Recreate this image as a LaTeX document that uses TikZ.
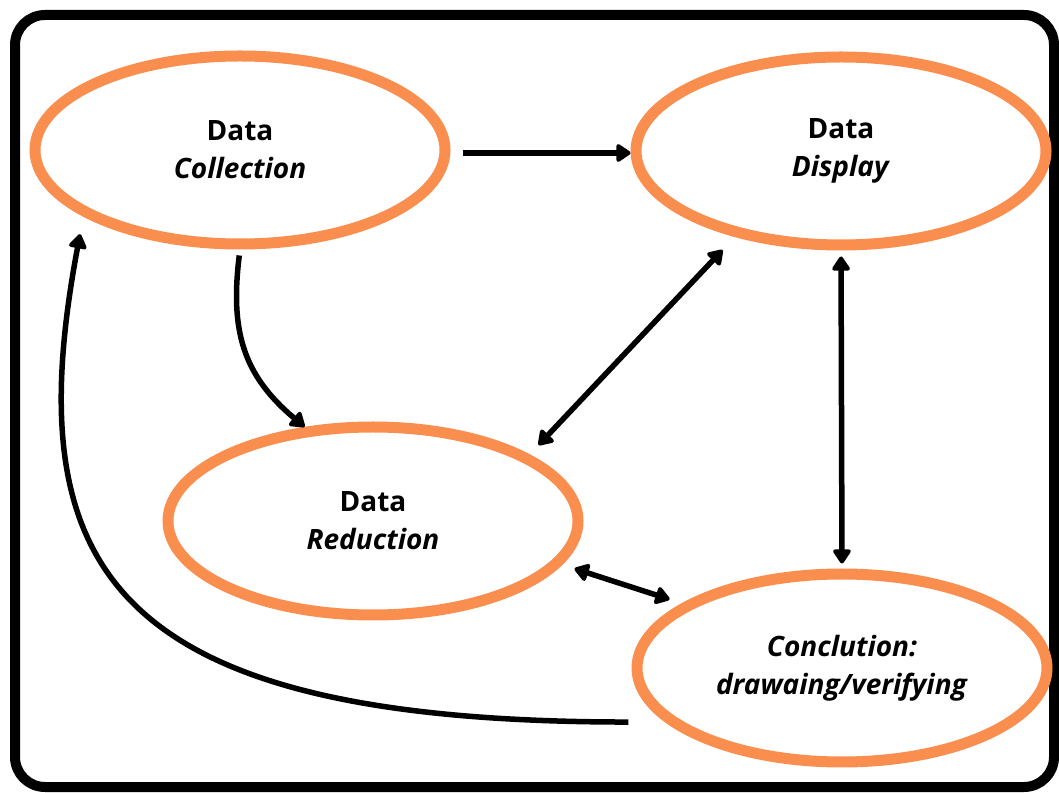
\documentclass[tikz,border=0pt]{standalone}
\usepackage{fontspec}
\setmainfont{Open Sans}
\usetikzlibrary{shapes.geometric,arrows.meta}
\definecolor{stageorange}{RGB}{250,142,78}

\begin{document}
\begin{tikzpicture}[
		x=1pt, y=1pt,
		stage/.style={ellipse, draw=stageorange, line width=11pt, minimum width=410pt, minimum height=188pt,
			align=center, font=\fontsize{28}{38}\selectfont\bfseries},
		flow/.style={line width=5.5pt, -{Triangle[length=16pt,width=20pt,round]}},
		twoway/.style={line width=5.5pt, {Triangle[length=16pt,width=20pt,round]}-{Triangle[length=16pt,width=20pt,round]}}
	]
	\useasboundingbox (0,0) rectangle (1059,792);
	\draw[line width=10pt, rounded corners=30pt] (15,5) rectangle (1054,777);

	\node[stage] (col) at (240,642) {Data\\\textit{Collection}};
	\node[stage] (dis) at (841,641) {Data\\\textit{Display}};
	\node[stage] (red) at (373,271) {Data\\\textit{Reduction}};
	\node[stage] (con) at (842,124) {\textit{Conclution:}\\\textit{drawaing/verifying}};

	\draw[flow, shorten <=12pt] ([yshift=-3pt]col.east) -- ([yshift=-2pt]dis.west);
	\draw[flow, shorten <=6pt] (col.south) to[out=-97, in=140, looseness=1.1] (red.126);
	\draw[twoway, shorten <=13pt, shorten >=18pt] (red.23) -- (dis.219.5);
	\draw[twoway, shorten <=6pt, shorten >=5pt] (dis.south) -- (con.north);
	\draw[twoway, shorten <=13pt, shorten >=13pt] (red.-13) -- (con.158);
	\draw[flow, shorten <=37pt, shorten >=18pt] (con.197) .. controls +(-559,0) and +(-66,-351) .. (col.203);
\end{tikzpicture}
\end{document}
